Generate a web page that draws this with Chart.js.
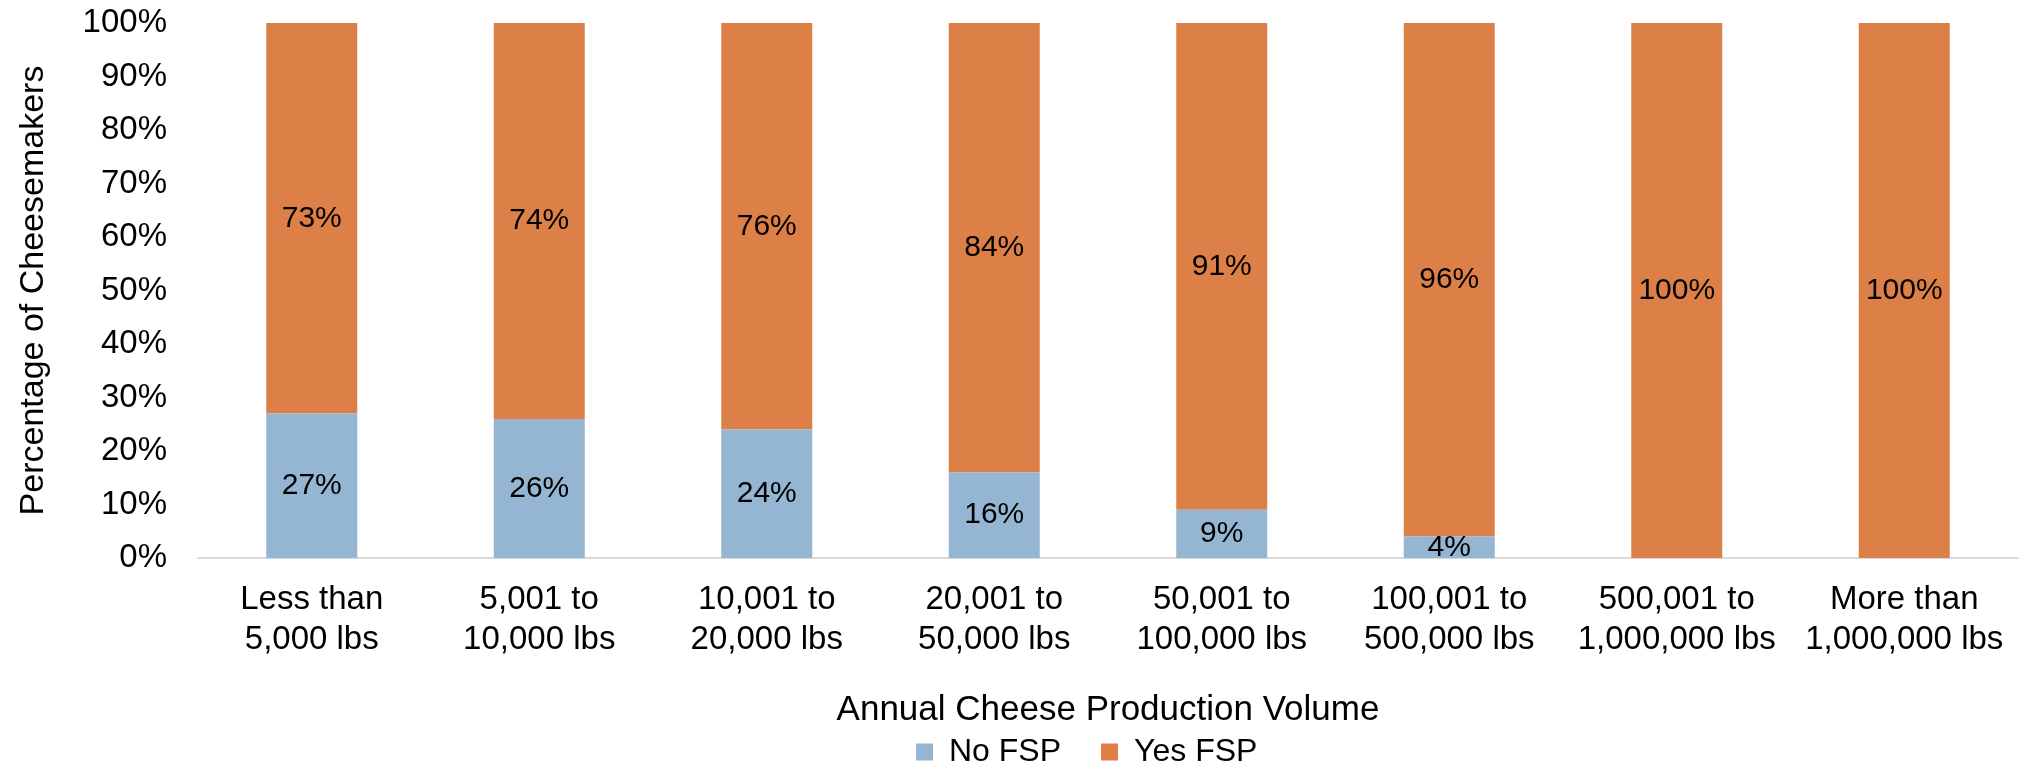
<!DOCTYPE html>
<html>
<head>
<meta charset="utf-8">
<title>Food Safety Plans by Annual Cheese Production Volume</title>
<script src="https://cdn.jsdelivr.net/npm/chart.js@4/dist/chart.umd.min.js"></script>
<style>
  html, body { margin: 0; padding: 0; background: #ffffff; }
  #wrap { position: relative; width: 2025px; height: 777px; }
</style>
</head>
<body>
<div id="wrap"><canvas id="chart" width="2025" height="777"></canvas></div>
<script>
// Production volume classes (two-line tick labels)
const categories = [
  ['Less than', '5,000 lbs'],
  ['5,001 to', '10,000 lbs'],
  ['10,001 to', '20,000 lbs'],
  ['20,001 to', '50,000 lbs'],
  ['50,001 to', '100,000 lbs'],
  ['100,001 to', '500,000 lbs'],
  ['500,001 to', '1,000,000 lbs'],
  ['More than', '1,000,000 lbs']
];

// Share of cheesemakers (%) without / with a food safety plan
const noFsp  = [27, 26, 24, 16, 9, 4, 0, 0];
const yesFsp = [73, 74, 76, 84, 91, 96, 100, 100];

// Y axis ticks
const yTickValues = [0, 10, 20, 30, 40, 50, 60, 70, 80, 90, 100];

const FONT = "'Liberation Sans', Arial, Helvetica, sans-serif";
const BLUE = '#94b6d2';
const ORANGE = '#dd8047';

// Prints each segment's value in the middle of its bar piece
const segmentLabels = {
  id: 'segmentLabels',
  afterDatasetsDraw(chart) {
    const ctx = chart.ctx;
    ctx.save();
    ctx.font = '30px ' + FONT;
    ctx.fillStyle = '#000000';
    ctx.textAlign = 'center';
    ctx.textBaseline = 'middle';
    chart.data.datasets.forEach((ds, di) => {
      const meta = chart.getDatasetMeta(di);
      meta.data.forEach((bar, i) => {
        const v = ds.data[i];
        if (!v) return;
        ctx.fillText(v + '%', bar.x, (bar.y + bar.base) / 2);
      });
    });
    ctx.restore();
  }
};

// Starts the legend row at a fixed x position
const LEGEND_X = 916;
const legendPlacement = {
  id: 'legendPlacement',
  afterLayout(chart) {
    const lg = chart.legend;
    if (!lg || !lg.lineWidths) return;
    const pad = lg.options.labels.padding;
    const w = lg.right - lg.left;
    const lw = lg.lineWidths[0];
    const left = LEGEND_X - (w + pad - lw) / 2;
    lg.left = left;
    lg.right = left + w;
  }
};

const LEGEND_PAD = 40;

new Chart(document.getElementById('chart'), {
  type: 'bar',
  data: {
    labels: categories,
    datasets: [
      { label: 'No FSP', data: noFsp, backgroundColor: BLUE, borderWidth: 0,
        barPercentage: 0.4, categoryPercentage: 1.0 },
      { label: 'Yes FSP', data: yesFsp, backgroundColor: ORANGE, borderWidth: 0,
        barPercentage: 0.4, categoryPercentage: 1.0 }
    ]
  },
  options: {
    responsive: false,
    animation: false,
    devicePixelRatio: 1,
    layout: { padding: { top: 23, right: 7, bottom: -1, left: 0 } },
    plugins: {
      legend: {
        position: 'bottom',
        labels: {
          font: { family: FONT, size: 32 },
          color: '#000000',
          boxWidth: 17,
          boxHeight: 17,
          padding: LEGEND_PAD
        }
      },
      tooltip: { enabled: false }
    },
    scales: {
      x: {
        stacked: true,
        grid: { display: false, drawTicks: false },
        border: { display: true, color: '#d9d9d9', width: 2 },
        ticks: {
          font: { family: FONT, size: 33, lineHeight: 1.24 },
          color: '#000000',
          padding: 21,
          maxRotation: 0,
          autoSkip: false
        },
        title: {
          display: true,
          text: 'Annual Cheese Production Volume',
          font: { family: FONT, size: 35, lineHeight: 1.2 },
          color: '#000000',
          padding: { top: 0, bottom: 5 - LEGEND_PAD }
        },
        afterFit(scale) { scale.height = 178 - LEGEND_PAD; }
      },
      y: {
        stacked: true,
        min: 0,
        max: 100,
        afterBuildTicks(scale) { scale.ticks = yTickValues.map(v => ({ value: v })); },
        grid: { display: false, drawTicks: false },
        border: { display: false },
        ticks: {
          font: { family: FONT, size: 33 },
          color: '#000000',
          padding: 31,
          callback: v => v + '%'
        },
        title: {
          display: true,
          text: 'Percentage of Cheesemakers',
          font: { family: FONT, size: 34, lineHeight: 1.2 },
          color: '#000000',
          padding: { top: 13, bottom: 0 }
        },
        afterFit(scale) {
          scale.width = 198;
          // keep only half a label of room above and below the plot
          scale.paddingTop = 20;
          scale.paddingBottom = 20;
        }
      }
    }
  },
  plugins: [segmentLabels, legendPlacement]
});
</script>
</body>
</html>
